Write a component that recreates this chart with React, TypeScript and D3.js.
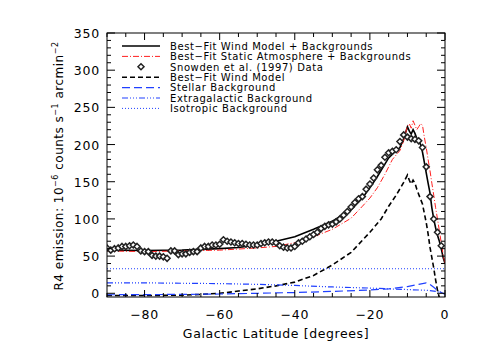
import React from 'react';
import * as d3 from 'd3';

// Snowden et al. (1997) R4 data, one point per degree from -90 to -1
const dataLat = d3.range(-90, 0, 1);
const dataVal = [
  61, 58, 60, 61, 63, 63, 64, 65, 63, 57,
  56, 56, 51, 50, 50, 49, 47, 57, 57, 52,
  53, 53, 55, 56, 56, 61, 63, 63, 65, 65,
  66, 72, 70, 69, 68, 67, 67, 66, 65, 65,
  65, 67, 68, 69, 69, 68, 64, 62, 61, 61,
  63, 68, 70, 73, 76, 79, 82, 87, 90, 92,
  93, 96, 100, 105, 110, 116, 122, 127, 130, 140,
  147, 155, 166, 172, 183, 189, 191, 193, 204, 213,
  210, 208, 207, 205, 196, 170, 130, 100, 82, 64,
];

// model curves as [latitude, value]
const windPlusBg: [number, number][] = [
  [-90, 58], [-80, 57.5], [-70, 58], [-60, 60], [-55, 61.5], [-50, 65], [-45, 70],
  [-40, 76], [-35, 86], [-30, 97], [-25, 112], [-22, 128], [-20, 142], [-18, 157],
  [-15, 182], [-13, 192], [-12, 196], [-11, 208], [-10, 224], [-9.5, 218], [-9, 214],
  [-8.5, 220], [-8, 215], [-7.5, 208], [-7, 205], [-6.5, 200], [-6, 190], [-5.5, 176],
  [-5, 162], [-4.5, 148], [-4, 135], [-3.5, 115], [-3, 100], [-2.5, 88], [-2, 78],
  [-1.5, 70], [-1, 60], [-0.5, 48], [0, 40],
];

const staticPlusBg: [number, number][] = [
  [-90, 57], [-80, 56], [-70, 57], [-60, 58], [-50, 61], [-45, 63], [-40, 68],
  [-35, 76], [-30, 86], [-25, 101], [-22, 117], [-20, 128], [-18, 142], [-16, 160],
  [-14, 180], [-12, 192], [-11, 205], [-10, 225], [-9.5, 228], [-9, 222], [-8.5, 232],
  [-8, 226], [-7.5, 220], [-7, 224], [-6.5, 228], [-6, 226], [-5.5, 210], [-5, 196],
  [-4.5, 180], [-4, 165], [-3.5, 148], [-3, 132], [-2.5, 115], [-2, 100], [-1.5, 84],
  [-1, 68], [-0.5, 52], [0, 40],
];

const windModel: [number, number][] = [
  [-90, -3], [-80, -3], [-70, -2.5], [-65, -1.5], [-60, 0], [-55, 3], [-50, 6],
  [-45, 10], [-40, 15], [-35, 24], [-30, 38], [-25, 55], [-20, 82], [-17, 100],
  [-15, 117], [-13, 132], [-11, 149], [-10, 159], [-9.5, 152], [-9, 147], [-8.5, 152],
  [-8, 148], [-7.5, 140], [-7, 133], [-6, 120], [-5, 95], [-4.5, 80], [-4, 62],
  [-3.5, 48], [-3, 34], [-2.5, 18], [-2, 4], [-1.5, -6],
];

const stellarBg: [number, number][] = [
  [-90, -2], [-70, -1.5], [-60, -1], [-50, 0], [-40, 1], [-30, 2.5], [-20, 4.5],
  [-15, 6], [-10, 9], [-7, 12], [-5, 14], [-4, 12], [-3, 8], [-2, 4], [-1, 1], [0, -1],
];

const extragalacticBg: [number, number][] = [
  [-90, 14], [-80, 14], [-70, 13.5], [-60, 13], [-50, 12], [-40, 10.5], [-30, 8.5],
  [-20, 7], [-15, 6], [-10, 5], [-5, 4], [-3, 3], [-2, 2], [-1, 0.5], [0, -1],
];

const isotropicBg: [number, number][] = [[-90, 33], [0, 33]];

const legendLabels = [
  'Best\u2212Fit Wind Model + Backgrounds',
  'Best\u2212Fit Static Atmosphere + Backgrounds',
  'Snowden et al. (1997) Data',
  'Best\u2212Fit Wind Model',
  'Stellar Background',
  'Extragalactic Background',
  'Isotropic Background',
];

const xTicks = [-80, -60, -40, -20, 0];
const yTicks = [0, 50, 100, 150, 200, 250, 300, 350];

const font = '"DejaVu Sans", sans-serif';

export default function App() {
  const left = 107, right = 445, top = 33, bottom = 297;
  const x = d3.scaleLinear().domain([-90, 0]).range([left, right]);
  const y = d3.scaleLinear().domain([-5, 350]).range([bottom, top]);
  const line = d3.line<[number, number]>().x(d => x(d[0])).y(d => y(d[1]));

  const styles = [
    { stroke: '#000', width: 1.6, dash: undefined as string | undefined },
    { stroke: '#ff2020', width: 1, dash: '6,2,1,2' },
    null,
    { stroke: '#000', width: 1.6, dash: '5,3' },
    { stroke: '#2040ff', width: 1.2, dash: '8,4' },
    { stroke: '#2040ff', width: 1.2, dash: '6,2,1,2,1,2,1,2' },
    { stroke: '#2040ff', width: 1, dash: '1,2' },
  ];
  const curves = [windPlusBg, staticPlusBg, null, windModel, stellarBg, extragalacticBg, isotropicBg];

  const xMinor = d3.range(-90, 1, 5);
  const yMinor = d3.range(0, 351, 10);
  const diamond = (cx: number, cy: number, r: number) =>
    `M${cx},${cy - r}L${cx + r},${cy}L${cx},${cy + r}L${cx - r},${cy}Z`;

  return (
    <svg width={481} height={354} style={{ display: 'block', position: 'absolute', left: 0, top: 0 }}>
      <rect width={481} height={354} fill="#fff" />
      <defs>
        <clipPath id="plot">
          <rect x={left} y={top} width={right - left} height={bottom - top} />
        </clipPath>
      </defs>
      <g clipPath="url(#plot)">
        {curves.map((c, i) => c && styles[i] ? (
          <path key={i} d={line(c) || ''} fill="none" stroke={styles[i]!.stroke}
            strokeWidth={styles[i]!.width} strokeDasharray={styles[i]!.dash} />
        ) : null)}
        {dataLat.map((lat, i) => (
          <path key={'d' + i} d={diamond(x(lat), y(dataVal[i]), 3)} fill="#fff"
            stroke="#222" strokeWidth={1.5} />
        ))}
      </g>
      {/* frame and ticks */}
      <rect x={left} y={top} width={right - left} height={bottom - top} fill="none" stroke="#000" strokeWidth={1} />
      {xMinor.map(v => {
        const major = xTicks.includes(v);
        const len = major ? 7 : 4;
        return (
          <g key={'xt' + v} stroke="#000" strokeWidth={1}>
            <line x1={x(v)} x2={x(v)} y1={bottom} y2={bottom - len} />
            <line x1={x(v)} x2={x(v)} y1={top} y2={top + len} />
          </g>
        );
      })}
      {yMinor.map(v => {
        const major = yTicks.includes(v);
        const len = major ? 8 : 4;
        return (
          <g key={'yt' + v} stroke="#000" strokeWidth={1}>
            <line x1={left} x2={left + len} y1={y(v)} y2={y(v)} />
            <line x1={right} x2={right - len} y1={y(v)} y2={y(v)} />
          </g>
        );
      })}
      {xTicks.map(v => (
        <text key={'xl' + v} x={x(v)} y={319} textAnchor="middle" fontFamily={font} fontSize={12.5}
          letterSpacing={0.8} fill="#000">
          {v < 0 ? '\u2212' + Math.abs(v) : v}
        </text>
      ))}
      {yTicks.map(v => (
        <text key={'yl' + v} x={100} y={y(v) + 5} textAnchor="end" fontFamily={font} fontSize={12.5}
          letterSpacing={0.8} fill="#000">
          {v}
        </text>
      ))}
      <text x={276} y={338} textAnchor="middle" fontFamily={font} fontSize={12.5} letterSpacing={0.6} fill="#000">
        Galactic Latitude [degrees]
      </text>
      <text transform="translate(63,166) rotate(-90)" textAnchor="middle" fontFamily={font} fontSize={12}
        letterSpacing={0.5} fill="#000">
        R4 emission: 10<tspan dy={-5} fontSize={8}>{'\u22126'}</tspan>
        <tspan dy={5}> counts s</tspan><tspan dy={-5} fontSize={8}>{'\u22121'}</tspan>
        <tspan dy={5}> arcmin</tspan><tspan dy={-5} fontSize={8}>{'\u22122'}</tspan>
      </text>
      {/* legend */}
      {legendLabels.map((lab, i) => {
        const ly = 46 + i * 10.4;
        const s = styles[i];
        return (
          <g key={'lg' + i}>
            {s ? (
              <line x1={122} x2={160} y1={ly} y2={ly} stroke={s.stroke} strokeWidth={s.width} strokeDasharray={s.dash} />
            ) : (
              <path d={diamond(141, ly, 3)} fill="#fff" stroke="#222" strokeWidth={1.5} />
            )}
            <text x={170} y={ly + 3.7} fontFamily={font} fontSize={10} letterSpacing={0.6} fill="#000">{lab}</text>
          </g>
        );
      })}
    </svg>
  );
}
